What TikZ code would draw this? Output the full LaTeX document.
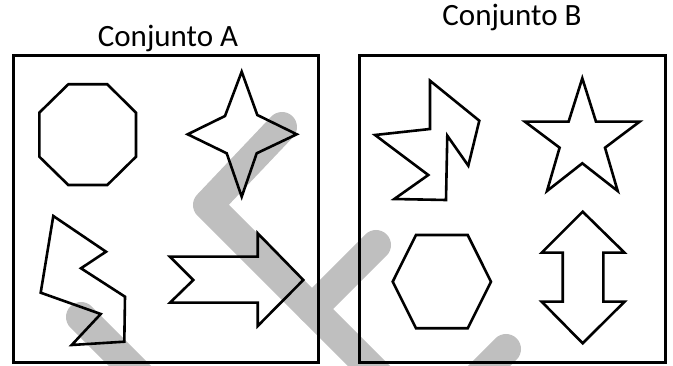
\documentclass[tikz,border=0pt]{standalone}
\usepackage{fontspec}
\setmainfont{Carlito}
\definecolor{bandgray}{HTML}{BFBFBF}
\begin{document}
\begin{tikzpicture}[x=1pt,y=-1pt,
  frame/.style={line width=3pt},
  figure/.style={line width=2.6pt, line join=miter},
  band/.style={line width=30pt, draw=bandgray, line cap=round, line join=round},
  title/.style={font=\fontsize{31}{36}\selectfont, anchor=base, inner sep=0pt}]
\useasboundingbox (0,0) rectangle (673,366);

% grey background strokes
\begin{scope}
\clip (0,0) rectangle (673,366);
\draw[band] (81,317) -- (170,406);
\draw[band] (282,127) -- (208,205) -- (398,395);
\draw[band] (376,245) -- (312,309);
\draw[band] (506,349) -- (446,409);
\end{scope}

% titles
\node[title] (titleA) at (168,47) {Conjunto A};
\node[title] (titleB) at (512,26) {Conjunto B};

% frames
\draw[frame] (13,56) rectangle (318,363);
\draw[frame] (359,56) rectangle (665,363);

% set A: octagon
\draw[figure] (68.3,84.3) -- (107.3,84.3) -- (136,112.7) -- (136,156.7)
  -- (107.3,185) -- (68.3,185) -- (39.3,156.7) -- (39.3,112.7) -- cycle;
% set A: four-pointed star
\draw[figure] (241.7,71.7) -- (257.3,115) -- (296.7,134.3) -- (256.7,153.3)
  -- (241.7,196.7) -- (226.7,153.3) -- (187.7,134.3) -- (225,116) -- cycle;
% set A: zigzag polygon
\draw[figure] (53.3,216) -- (106,251.7) -- (81,268.3) -- (125,296.7)
  -- (124.3,341.7) -- (71.7,345) -- (100.7,314) -- (40.7,292.7) -- cycle;
% set A: notched arrow
\draw[figure] (170,256.7) -- (257.7,256.7) -- (257.7,233.3) -- (303.3,280)
  -- (257.7,326) -- (257.7,302.7) -- (170,302.7) -- (193.3,280) -- cycle;

% set B: zigzag polygon
\draw[figure] (430,80.7) -- (479.3,120.7) -- (468.3,165.7) -- (447.3,135.7)
  -- (446,200) -- (394.3,199) -- (428.3,175) -- (375,135) -- (430,129) -- cycle;
% set B: five-pointed star
\draw[figure] (582.3,78.3) -- (596,121.7) -- (639.6,121.7) -- (605,147.7)
  -- (617.7,191) -- (582.3,163.3) -- (547,191) -- (559.6,147.7)
  -- (525,121.7) -- (568.6,121.7) -- cycle;
% set B: hexagon
\draw[figure] (416,235) -- (467.7,235) -- (491,281.7) -- (467.7,328.3)
  -- (416,328.3) -- (392.7,281.7) -- cycle;
% set B: double arrow
\draw[figure] (582.7,211.7) -- (624.5,252.7) -- (603.3,252.7) -- (603.3,301.7)
  -- (624.5,301.7) -- (582.7,343.3) -- (541.7,301.7) -- (562.7,301.7)
  -- (562.7,252.7) -- (541.7,252.7) -- cycle;
\end{tikzpicture}
\end{document}
